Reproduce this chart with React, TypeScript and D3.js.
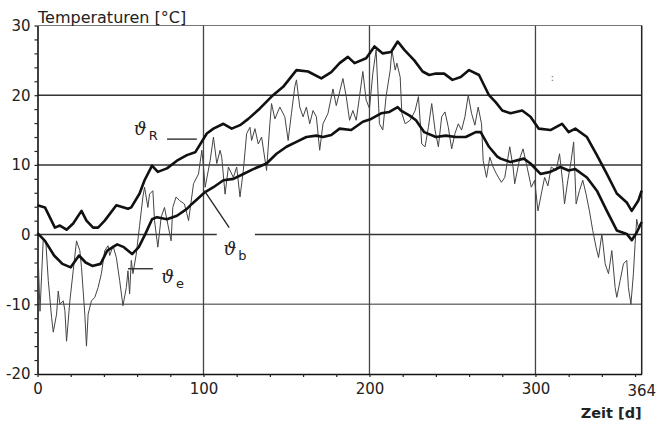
import { useEffect, useRef } from 'react';
import { axisBottom, axisLeft, line, range, scaleLinear, select } from 'd3';

// Raumtemperatur (dicke Linie oben)
const rDays = [0, 4.5, 10.5, 13.5, 17.5, 21.5, 26.5, 29.5, 33.5, 36.5, 40.5, 47.5, 54.5, 56.5, 61.5, 64.5, 69, 72.5, 78, 84, 90, 95, 102, 106, 112, 117, 122, 127, 134, 141, 148, 156, 163, 171, 177, 182, 187, 191, 198, 203, 208, 213, 217, 221, 227, 232, 236, 240, 245, 250, 255, 260, 266, 272, 276, 280, 285, 292, 297, 302, 309, 316, 320, 324, 331, 337, 343, 349, 355, 358, 362, 364];
const rTemps = [4.2, 3.9, 1.0, 1.3, 0.7, 1.6, 3.4, 2.0, 1.0, 1.0, 2.0, 4.2, 3.7, 3.9, 5.9, 7.8, 9.9, 9.0, 9.5, 10.6, 11.4, 11.8, 14.5, 15.2, 15.9, 15.2, 15.7, 16.6, 18.1, 19.8, 21.2, 23.6, 23.4, 22.4, 23.3, 24.6, 25.5, 24.6, 25.3, 27.0, 26.0, 26.2, 27.7, 26.5, 25.0, 23.4, 22.9, 23.1, 23.1, 22.2, 22.6, 23.6, 22.9, 20.0, 19.0, 17.8, 17.4, 17.8, 16.9, 15.2, 15.0, 15.9, 14.7, 15.2, 14.0, 11.4, 8.7, 5.9, 4.6, 3.4, 4.9, 6.3];

// Bauteiltemperatur (dicke Linie mitte)
const bDays = [0, 4.5, 10, 15, 20, 25, 29, 33, 38, 42, 48, 52, 57, 61, 65, 69, 72, 78, 84, 90, 93, 101, 106, 112, 118, 124, 130, 138, 144, 150, 156, 162, 168, 172, 177, 182, 189, 196, 201, 207, 212, 217, 219, 224, 228, 233, 240, 246, 252, 258, 264, 267, 272, 277, 279, 285, 293, 297, 303, 309, 315, 320, 324, 331, 337, 343, 349, 355, 358, 361, 364];
const bTemps = [0.2, -0.9, -3.0, -4.2, -4.7, -3.0, -4.0, -4.5, -4.2, -2.3, -1.4, -1.8, -2.8, -1.8, 0.1, 2.2, 2.5, 2.2, 2.7, 3.7, 4.4, 6.1, 6.8, 7.8, 8.0, 8.7, 9.4, 10.2, 11.6, 12.6, 13.3, 14.0, 14.2, 14.0, 14.3, 15.2, 15.0, 16.2, 16.6, 17.4, 17.6, 18.3, 17.8, 17.1, 16.4, 14.7, 14.0, 14.2, 14.0, 14.0, 14.7, 14.7, 12.6, 11.2, 10.9, 10.4, 10.9, 10.2, 8.7, 9.0, 9.7, 9.2, 9.4, 8.2, 6.3, 3.4, 0.6, 0.1, -0.8, 0.3, 1.8];

// Außentemperatur (dünne Linie)
const eDays = [0, 1.5, 3.5, 5, 6.5, 8.5, 9.5, 11.5, 12.5, 13.5, 15.5, 16.5, 17.5, 19.5, 21.5, 23.5, 25.5, 26.5, 28.5, 29.5, 30.5, 32.5, 34.5, 36.5, 38.5, 40.5, 42.5, 43.5, 45.5, 47.5, 49.5, 51.5, 53.5, 54.5, 55.5, 56.5, 57.5, 59.5, 61.5, 63.5, 64.5, 66.5, 67.5, 69.5, 70.5, 72.5, 74.5, 76.5, 78.5, 80.5, 81.5, 83.5, 85.5, 88.5, 90, 91, 94, 97, 99, 100, 101, 104, 106, 108, 110, 111, 113, 115, 118, 120, 122, 124, 126, 128, 129, 131, 133, 135, 138, 140, 141, 143, 146, 149, 151, 153, 155, 156, 158, 160, 162, 164, 166, 168, 170, 172, 175, 178, 180, 184, 186, 188, 190, 192, 194, 196, 198, 200, 202, 204, 206, 208, 210, 212.5, 213.5, 215.5, 216.5, 218.5, 219.5, 221.5, 224.5, 227.5, 229.5, 231.5, 233.5, 235.5, 237.5, 239.5, 241.5, 243.5, 245.5, 247.5, 249.5, 251.5, 253.5, 255.5, 257.5, 259.5, 261.5, 263.5, 265.5, 267.5, 268.5, 270.5, 272.5, 274.5, 276.5, 279.5, 281.5, 284.5, 286.5, 287.5, 290.5, 292.5, 294.5, 297.5, 299.5, 301.5, 303.5, 305.5, 307.5, 309.5, 312.5, 314.5, 316.5, 317.5, 319.5, 321.5, 323, 324.5, 326.5, 328.5, 330.5, 332.5, 334.5, 336.5, 338, 340, 342, 344, 346, 348, 349, 351, 353, 355, 356, 357.5, 359, 360, 361, 362, 364];
const eTemps = [-0.4, -11.0, -0.5, -1.0, -6.6, -11.9, -14.0, -11.4, -8.1, -10.0, -9.5, -10.9, -15.3, -9.5, -5.2, -0.9, -2.3, -4.7, -11.4, -16.0, -11.4, -9.5, -9.0, -7.6, -5.6, -2.3, -1.6, -3.0, -1.6, -3.3, -6.6, -10.2, -7.6, -5.2, -8.5, -3.7, -5.6, -2.8, 1.3, 5.4, 6.8, 3.9, 5.8, 6.3, 2.0, -1.8, 2.5, 3.9, 1.5, -0.9, 3.9, 5.4, 4.9, 4.4, 3.0, 2.0, 7.3, 8.7, 12.1, 9.7, 6.8, 10.6, 14.0, 10.2, 12.1, 11.1, 5.8, 9.7, 8.2, 9.7, 5.4, 9.2, 14.5, 15.4, 13.5, 15.2, 13.0, 14.0, 9.2, 15.9, 18.8, 16.6, 18.3, 16.9, 13.5, 17.4, 21.2, 22.2, 18.3, 16.9, 18.3, 15.9, 17.8, 16.9, 12.1, 15.9, 17.4, 20.9, 18.5, 22.4, 19.8, 16.4, 17.8, 16.4, 19.8, 23.4, 19.3, 18.1, 23.1, 26.5, 15.9, 15.0, 19.8, 23.6, 26.5, 23.6, 24.6, 22.6, 17.4, 15.9, 16.4, 17.8, 19.8, 13.0, 12.6, 15.4, 18.8, 15.0, 12.6, 16.9, 17.6, 15.4, 12.3, 14.5, 15.9, 15.0, 16.9, 20.0, 17.4, 15.7, 18.3, 15.9, 10.6, 8.2, 11.1, 9.7, 8.7, 7.5, 8.2, 12.6, 9.7, 7.3, 10.9, 12.3, 10.2, 6.8, 7.8, 3.4, 5.8, 8.2, 7.0, 9.7, 9.2, 11.6, 7.3, 4.4, 7.8, 10.6, 13.3, 4.4, 6.3, 7.8, 5.8, 3.4, 0.6, -1.8, -3.3, 0.1, -4.2, -5.6, -2.3, -7.6, -9.0, -6.6, -4.2, -3.7, -7.6, -10.0, -5.6, -1.4, 2.2, 1.0, 1.5];

const yLabels = [30, 20, 10, 0, -10, -20];
const xLabels = [0, 100, 200, 300];
const yGrid = [20, 10, -10];
const xGrid = [100, 200, 300];

export default function TemperatureChart() {
  const svgRef = useRef<SVGSVGElement>(null);

  useEffect(() => {
    const width = 657;
    const height = 423;
    const font = "'DejaVu Sans', sans-serif";

    const svg = select(svgRef.current);
    svg.selectAll('*').remove();
    svg.attr('width', width).attr('height', height);

    const x = scaleLinear().domain([0, 364]).range([37.5, 641.7]);
    const y = scaleLinear().domain([-20, 30]).range([374, 25.5]);

    // Gitter
    svg
      .append('line')
      .attr('x1', x(0))
      .attr('x2', x(364))
      .attr('y1', y(30))
      .attr('y2', y(30))
      .attr('stroke', '#777')
      .attr('stroke-width', 1);

    svg
      .selectAll('line.hgrid')
      .data(yGrid)
      .enter()
      .append('line')
      .attr('class', 'hgrid')
      .attr('x1', x(0))
      .attr('x2', x(364))
      .attr('y1', (d) => y(d))
      .attr('y2', (d) => y(d))
      .attr('stroke', (d) => (d < 0 ? '#777' : '#333'))
      .attr('stroke-width', 1.5);

    // Null-Linie mit Lücke für die Beschriftung
    svg
      .selectAll('line.zero')
      .data([
        [0, 108],
        [131, 364],
      ])
      .enter()
      .append('line')
      .attr('class', 'zero')
      .attr('x1', (d) => x(d[0]))
      .attr('x2', (d) => x(d[1]))
      .attr('y1', y(0))
      .attr('y2', y(0))
      .attr('stroke', '#333')
      .attr('stroke-width', 1.5);

    svg
      .selectAll('line.vgrid')
      .data(xGrid)
      .enter()
      .append('line')
      .attr('class', 'vgrid')
      .attr('x1', (d) => x(d))
      .attr('x2', (d) => x(d))
      .attr('y1', y(30))
      .attr('y2', y(-20))
      .attr('stroke', '#444')
      .attr('stroke-width', 1.3);

    // Achsen
    const yAxis = svg
      .append('g')
      .attr('transform', `translate(${x(0)},0)`)
      .call(
        axisLeft(y)
          .tickValues(range(-20, 31, 2))
          .tickSize(3)
          .tickSizeOuter(0)
          .tickPadding(4)
          .tickFormat((d) => (yLabels.includes(+d) ? String(d) : ''))
      );
    yAxis.select('.domain').attr('stroke', '#111').attr('stroke-width', 1.6);
    yAxis.selectAll('line').attr('stroke', '#222').attr('stroke-width', 1.2);
    yAxis
      .selectAll('text')
      .attr('font-family', font)
      .attr('font-size', 15)
      .attr('fill', '#222');

    const xAxis = svg
      .append('g')
      .attr('transform', `translate(0,${y(-20)})`)
      .call(
        axisBottom(x)
          .tickValues(range(0, 361, 20))
          .tickSize(3)
          .tickSizeOuter(0)
          .tickPadding(6)
          .tickFormat((d) => (xLabels.includes(+d) ? String(d) : ''))
      );
    xAxis.select('.domain').attr('stroke', '#111').attr('stroke-width', 1.6);
    xAxis.selectAll('line').attr('stroke', '#222').attr('stroke-width', 1.2);
    xAxis
      .selectAll('text')
      .attr('font-family', font)
      .attr('font-size', 15)
      .attr('fill', '#222');

    svg
      .append('text')
      .attr('x', x(364))
      .attr('y', y(-20) + 22)
      .attr('text-anchor', 'middle')
      .attr('font-family', font)
      .attr('font-size', 15)
      .attr('fill', '#222')
      .text('364');

    // rechter Rand
    svg
      .append('line')
      .attr('x1', x(364))
      .attr('x2', x(364))
      .attr('y1', y(30))
      .attr('y2', y(-20))
      .attr('stroke', '#222')
      .attr('stroke-width', 1.5);

    // Kurven
    const path = line<[number, number]>()
      .x((d) => x(d[0]))
      .y((d) => y(d[1]));

    const eData = eDays.map((d, i) => [d, eTemps[i]] as [number, number]);
    const bData = bDays.map((d, i) => [d, bTemps[i]] as [number, number]);
    const rData = rDays.map((d, i) => [d, rTemps[i]] as [number, number]);

    svg
      .append('path')
      .attr('d', path(eData))
      .attr('fill', 'none')
      .attr('stroke', '#444')
      .attr('stroke-width', 1)
      .attr('stroke-linejoin', 'round');

    [bData, rData].forEach((data) => {
      svg
        .append('path')
        .attr('d', path(data))
        .attr('fill', 'none')
        .attr('stroke', '#111')
        .attr('stroke-width', 2.6)
        .attr('stroke-linejoin', 'round');
    });

    // Beschriftungen
    svg
      .append('text')
      .attr('x', 38)
      .attr('y', 23)
      .attr('font-family', font)
      .attr('font-size', 16)
      .attr('fill', '#222')
      .text('Temperaturen [°C]');

    svg
      .append('text')
      .attr('x', x(364))
      .attr('y', 418)
      .attr('text-anchor', 'end')
      .attr('font-family', font)
      .attr('font-size', 14.5)
      .attr('font-weight', 'bold')
      .attr('fill', '#222')
      .text('Zeit [d]');

    const labels = [
      { sym: 'R', day: 58, val: 14.3, lead: [78, 13.7, 96, 13.7] },
      { sym: 'b', day: 112, val: -2.9, lead: [100.5, 6.3, 115.5, 1.0] },
      { sym: 'e', day: 74.5, val: -6.9, lead: [54.5, -4.9, 69.5, -4.9] },
    ];

    labels.forEach((l) => {
      svg
        .append('line')
        .attr('x1', x(l.lead[0]))
        .attr('y1', y(l.lead[1]))
        .attr('x2', x(l.lead[2]))
        .attr('y2', y(l.lead[3]))
        .attr('stroke', '#222')
        .attr('stroke-width', 1.3);
      const t = svg
        .append('text')
        .attr('x', x(l.day))
        .attr('y', y(l.val))
        .attr('fill', '#222');
      t.append('tspan')
        .attr('font-family', "'DejaVu Serif', serif")
        .attr('font-size', 18)
        .attr('font-style', 'italic')
        .text('ϑ');
      t.append('tspan')
        .attr('font-family', font)
        .attr('font-size', 13)
        .attr('dx', 2)
        .attr('dy', 5)
        .text(l.sym);
    });

    svg
      .append('text')
      .attr('x', x(309))
      .attr('y', y(22))
      .attr('font-family', font)
      .attr('font-size', 11)
      .attr('fill', '#777')
      .text(':');
  }, []);

  return (
    <div style={{ position: 'absolute', left: 0, top: 0, background: '#fff' }}>
      <svg ref={svgRef}></svg>
    </div>
  );
}
